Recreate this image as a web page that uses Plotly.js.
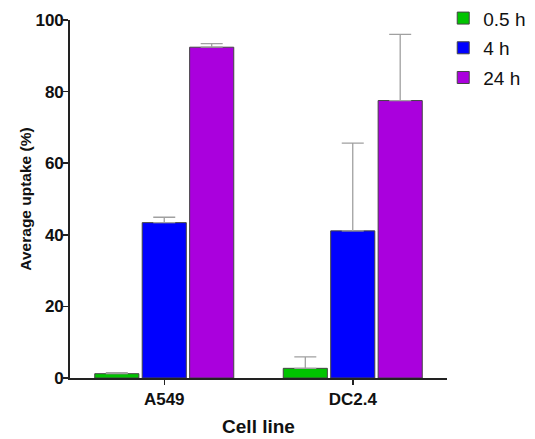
<!DOCTYPE html>
<html>
<head>
<meta charset="utf-8">
<script src="https://cdn.plot.ly/plotly-3.0.1.min.js"></script>
<style>html,body{margin:0;padding:0;background:#fff;}#chart{width:535px;height:439px;}</style>
</head>
<body>
<div id="chart"></div>
<script>
const categories = ["A549", "DC2.4"];
const seriesNames = ["0.5 h", "4 h", "24 h"];
const values_05h = [1.2, 2.7];
const values_4h = [43.4, 41.1];
const values_24h = [92.4, 77.5];
const errors_05h = [0.3, 3.2];
const errors_4h = [1.5, 24.5];
const errors_24h = [1.0, 18.5];
const yTicks = [0, 20, 40, 60, 80, 100];
const colors = ["#00c400", "#0000ff", "#aa00dd"];

const allValues = [values_05h, values_4h, values_24h];
const allErrors = [errors_05h, errors_4h, errors_24h];

const traces = seriesNames.map((name, i) => ({
  type: "bar",
  name: name,
  x: categories,
  y: allValues[i],
  legendgroup: "g" + i,
  marker: { color: colors[i], line: { color: "#444", width: 1 } },
  error_y: { type: "data", array: allErrors[i], symmetric: false, arrayminus: allErrors[i].map(() => 0), color: "#a0a0a0", thickness: 1.3, width: 11 }
}));

const font = "Liberation Sans, Arial, sans-serif";
const layout = {
  width: 535, height: 439,
  margin: { l: 70, r: 88, t: 20, b: 61, autoexpand: false },
  paper_bgcolor: "#fff", plot_bgcolor: "#fff",
  barmode: "group",
  bargap: 0.245,
  bargroupgap: 0.07,
  showlegend: true,
  legend: { x: 0.99, xanchor: "left", y: 1.058, yanchor: "top", font: { family: font, size: 19, color: "#111" }, tracegroupgap: 2, itemwidth: 30 },
  xaxis: {
    range: [-0.5, 1.5],
    tickvals: categories,
    ticktext: categories.map(c => "<b>" + c + "</b>"),
    showline: true, linecolor: "#222", linewidth: 1.8,
    ticks: "outside", ticklen: 5, tickwidth: 1.5, tickcolor: "#222",
    showgrid: false, zeroline: false,
    tickfont: { family: font, size: 17, color: "#111" },
    title: { text: "<b>Cell line</b>", font: { family: font, size: 19, color: "#111" }, standoff: 11 }
  },
  yaxis: {
    range: [0, 100],
    tickvals: yTicks,
    ticktext: yTicks.map(v => "<b>" + v + "</b>"),
    showline: true, linecolor: "#222", linewidth: 1.8,
    ticks: "outside", ticklen: 5, tickwidth: 1.5, tickcolor: "#222",
    ticklabelstandoff: -4,
    showgrid: false, zeroline: false,
    tickfont: { family: font, size: 17, color: "#111" },
    title: { text: "<b>Average uptake (%)</b>", font: { family: font, size: 15.5, color: "#111" }, standoff: 0 }
  }
};

Plotly.newPlot("chart", traces, layout, { displayModeBar: false, staticPlot: true });
</script>
</body>
</html>
